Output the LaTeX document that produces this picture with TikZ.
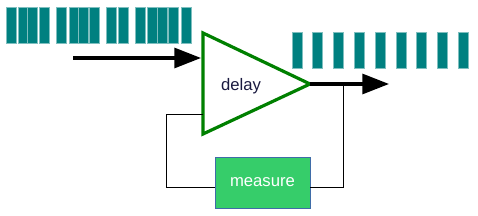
\documentclass[tikz,border=0pt]{standalone}
\usepackage{fontspec}
\setmainfont{Liberation Sans}
\usetikzlibrary{arrows.meta,positioning}
\definecolor{barteal}{HTML}{008080}
\definecolor{barrim}{HTML}{7FBFBF}
\definecolor{ampgreen}{HTML}{008000}
\definecolor{boxgreen}{HTML}{36CD6A}
\definecolor{boxrim}{HTML}{3F6CA8}
\definecolor{delaytext}{HTML}{1A1A40}

\begin{document}
\begin{tikzpicture}[
x=0.75pt, y=-0.75pt,
bar/.style={fill=barteal, draw=barrim, line width=0.5pt},
amp/.style={draw=ampgreen, line width=2.4pt, line join=miter},
arr/.style={-{Triangle[length=20pt, width=15pt]}, line width=2.3pt},
wire/.style={draw, line width=0.75pt},
txt/.style={font=\fontsize{12.5}{15}\selectfont},
measurebox/.style={draw=boxrim, fill=boxgreen, line width=0.6pt, inner sep=0pt, minimum width=71.25pt, minimum height=38.25pt, text=white, txt}
]
\useasboundingbox (0,0) rectangle (478,216);
% incoming packets, bunched up
\foreach \x in {6,18,27,39,56,69,78,89,106,118,135,147,157,168,181}
  \draw[bar] (\x,7) rectangle ++(10,36);
% outgoing packets, evenly spaced
\foreach \i in {0,...,8}
  \draw[bar] ({292+20.8*\i},32) rectangle ++(10,36);

% delay stage
\coordinate (top) at (203,33);
\coordinate (bot) at (203,134);
\coordinate (tip) at (310,84);
\draw[amp] (top) -- (tip) -- (bot) -- cycle;
\node[txt, text=delaytext, anchor=base] (delay) at (241,91) {delay};
\node[measurebox] (measure) at (262.5,182.5) {measure};

\coordinate (in) at (73,58);
\coordinate (inend) at (201,58);
\coordinate (out) at (389,84);
\coordinate (tap) at (343,84);
\coordinate (fb) at (203,115);
\draw[arr] (in) -- (inend);
\draw[arr] (tip) -- (out);
\draw[wire] (tap) |- ([yshift=-3.75pt]measure.east);
\draw[wire] ([yshift=-3.75pt]measure.west) -- ++(-48,0) |- (fb);
\end{tikzpicture}
\end{document}
